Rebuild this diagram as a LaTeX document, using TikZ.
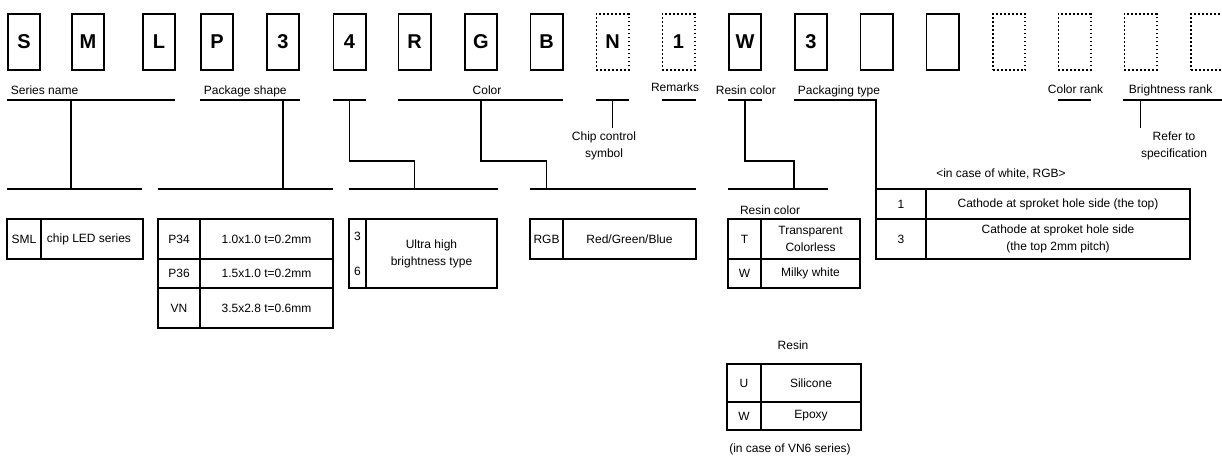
\documentclass[tikz,border=0pt]{standalone}
\usepackage{fontspec}
\setmainfont{Liberation Sans}
\usetikzlibrary{positioning}

\begin{document}
\begin{tikzpicture}[x=1pt, y=-1pt, line width=1.8pt,
  letterbox/.style={draw, minimum width=32.2, minimum height=56.2, inner sep=0, font=\fontsize{20}{24}\selectfont\bfseries},
  openbox/.style={letterbox, dash pattern=on 1.8pt off 2.2pt},
  bar/.style={fill, inner sep=0, outer sep=0, minimum height=1.8pt},
  tag/.style={inner sep=0, font=\fontsize{12}{17}\selectfont},
  note/.style={tag, align=center, outer ysep=4pt},
  cell/.style={draw, inner sep=0, outer sep=0, align=center, font=\fontsize{12}{17}\selectfont}
]
\useasboundingbox (0,0) rectangle (1222,455);

% part number boxes
\node[letterbox] (k1) at (24,42) {S};
\node[letterbox] (k2) at (88,42) {M};
\node[letterbox] (k3) at (159,42) {L};
\node[letterbox] (k4) at (217,42) {P};
\node[letterbox] (k5) at (283,42) {3};
\node[letterbox] (k6) at (349.5,42) {4};
\node[letterbox] (k7) at (414.5,42) {R};
\node[letterbox] (k8) at (481,42) {G};
\node[letterbox] (k9) at (546.5,42) {B};
\node[openbox] (k10) at (612.5,42) {N};
\node[openbox] (k11) at (678.5,42) {1};
\node[letterbox] (k12) at (745,42) {W};
\node[letterbox] (k13) at (811,42) {3};
\node[letterbox] (k14) at (876.5,42) {};
\node[letterbox] (k15) at (942.5,42) {};
\node[openbox] (k16) at (1009,42) {};
\node[openbox] (k17) at (1074.5,42) {};
\node[openbox] (k18) at (1140.5,42) {};
\node[openbox] (k19) at (1207,42) {};

% field names
\node[tag, anchor=base west] (lser) at (10,94) {Series name};
\node[tag, anchor=base west] (lpkg) at (203,94) {Package shape};
\node[tag, anchor=base] (lcol) at (487,94) {Color};
\node[tag, anchor=base] (lrem) at (675,91) {Remarks};
\node[tag, anchor=base west] (lres) at (715,94) {Resin color};
\node[tag, anchor=base west] (lpkt) at (797,94) {Packaging type};
\node[tag, anchor=base west] (lcrk) at (1047,93) {Color rank};
\node[tag, anchor=base west] (lbrk) at (1128,93) {Brightness rank};

% bars
\node[bar, minimum width=168] (tb1) at (91,100) {};
\node[bar, minimum width=100] (tb2) at (250,100) {};
\node[bar, minimum width=33] (tb3) at (349.5,100) {};
\node[bar, minimum width=165] (tb4) at (480.5,100) {};
\node[bar, minimum width=33] (tb5) at (612.5,100) {};
\node[bar, minimum width=34] (tb6) at (679,100) {};
\node[bar, minimum width=34] (tb7) at (745,100) {};
\node[bar, minimum width=83] (tb8) at (835.5,100) {};
\node[bar, minimum width=33] (tb9) at (1074.5,100) {};
\node[bar, minimum width=101] (tb10) at (1173.5,100) {};
\node[bar, minimum width=135] (lb1) at (74.5,189) {};
\node[bar, minimum width=175] (lb2) at (245.5,189) {};
\node[bar, minimum width=149] (lb3) at (423.5,189) {};
\node[bar, minimum width=166] (lb4) at (613,189) {};
\node[bar, minimum width=100] (lb5) at (778,189) {};

\node[note, anchor=north] (chip) at (604,128) {Chip control\\symbol};
\node[note, anchor=north] (refer) at (1174,128) {Refer to\\specification};

% series
\node[cell, minimum width=34, minimum height=40] (sml) at (24,239) {SML};
\node[cell, minimum width=102, minimum height=40, right=0pt of sml] (smlx) {chip LED series\hspace*{6pt}};

% package shape
\node[cell, minimum width=42, minimum height=40] (sh34) at (179,239) {P34};
\node[cell, minimum width=133, minimum height=40, right=0pt of sh34] (sh34x) {1.0x1.0 t=0.2mm};
\node[cell, minimum width=42, minimum height=29, below=0pt of sh34] (sh36) {P36};
\node[cell, minimum width=133, minimum height=29, below=0pt of sh34x] (sh36x) {1.5x1.0 t=0.2mm};
\node[cell, minimum width=42, minimum height=40, below=0pt of sh36] (shvn) {VN};
\node[cell, minimum width=133, minimum height=40, below=0pt of sh36x] (shvnx) {3.5x2.8 t=0.6mm};

% brightness type
\node[cell, minimum width=17, minimum height=69] (br) at (357.5,253.5) {3\\[18pt]6};
\node[cell, minimum width=131, minimum height=69, right=0pt of br] (brx) {Ultra high\\brightness type};

% color
\node[cell, minimum width=33, minimum height=40] (rgb) at (546.5,239) {RGB};
\node[cell, minimum width=133, minimum height=40, right=0pt of rgb] (rgbx) {Red/Green/Blue};

% resin color
\node[tag] (rclab) at (770,210) {Resin color};
\node[cell, minimum width=33, minimum height=40] (rcT) at (744.5,239) {T};
\node[cell, minimum width=99, minimum height=40, right=0pt of rcT] (rcTx) {Transparent\\Colorless};
\node[cell, minimum width=33, minimum height=29, below=0pt of rcT] (rcW) {W};
\node[cell, minimum width=99, minimum height=29, below=0pt of rcTx] (rcWx) {Milky white};

% packaging type
\node[tag] (pgnote) at (1001,174) {<in case of white, RGB>};
\node[cell, minimum width=50, minimum height=30] (pg1) at (901,204) {1};
\node[cell, minimum width=264, minimum height=30, right=0pt of pg1] (pg1x) {Cathode at sproket hole side (the top)};
\node[cell, minimum width=50, minimum height=40, below=0pt of pg1] (pg3) {3};
\node[cell, minimum width=264, minimum height=40, below=0pt of pg1x] (pg3x) {Cathode at sproket hole side\\(the top 2mm pitch)};

% resin
\node[tag] (rslab) at (793,345) {Resin};
\node[cell, minimum width=34, minimum height=38] (rsU) at (744,383) {U};
\node[cell, minimum width=100, minimum height=38, right=0pt of rsU] (rsUx) {Silicone};
\node[cell, minimum width=34, minimum height=28, below=0pt of rsU] (rsW) {W};
\node[cell, minimum width=100, minimum height=28, below=0pt of rsUx] (rsWx) {Epoxy};
\node[tag] (rsnote) at (790,449) {(in case of VN6 series)};

% drop lines
\draw (tb1.center -| k2.west) -- (lb1.center -| k2.west);
\draw (tb2.center -| k5.center) -- (lb2.center -| k5.center);
\draw (tb3.center) -- ++(0,61) -| (lb3.center -| k7.center);
\draw (tb4.center -| k8.center) -- ++(0,61) -| (lb4.center -| k9.center);
\draw (tb5.center) -- (chip.north -| tb5.center);
\draw (tb7.center) -- ++(0,61) -| (lb5.center -| k13.west);
\draw (tb8.center -| pg1.west) -- (pg1.north west);
\draw (tb10.center -| k18.center) -- (refer.north -| k18.center);
\end{tikzpicture}
\end{document}
